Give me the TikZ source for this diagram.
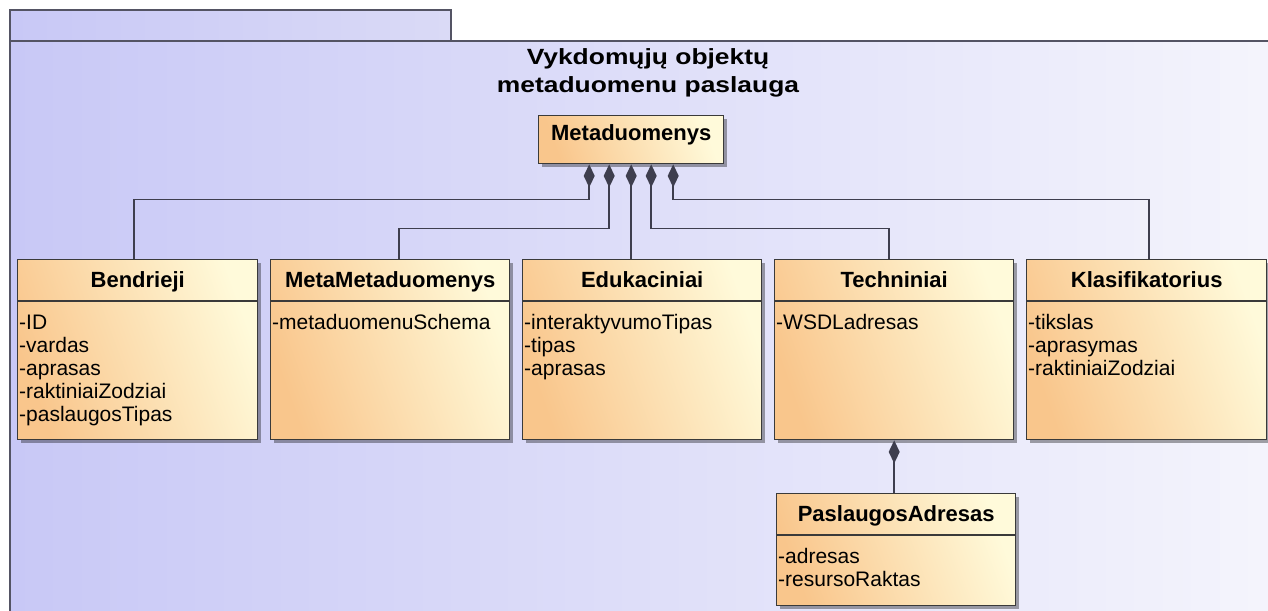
\documentclass[tikz,border=0pt]{standalone}
\usepackage{fontspec}
\setmainfont{Liberation Sans}
\newfontfamily\pkgfont[FakeStretch=1.2]{Liberation Sans}
\usetikzlibrary{arrows.meta,shadows}

\definecolor{pkgL}{RGB}{200,200,246}
\definecolor{pkgM}{RGB}{218,218,246}
\definecolor{pkgR}{RGB}{245,245,252}
\definecolor{pkgline}{RGB}{84,84,100}
\definecolor{clsA}{RGB}{249,198,140}
\definecolor{clsB}{RGB}{255,250,218}
\definecolor{clsline}{RGB}{58,58,58}
\definecolor{wire}{RGB}{62,62,78}

\tikzset{
  classbox/.style={draw=clsline, line width=1.4pt, inner sep=0pt,
    left color=clsA, right color=clsB, shading angle=110,
    drop shadow={shadow xshift=3pt, shadow yshift=-3pt, fill=black, opacity=0.35}},
  clstitle/.style={inner sep=0pt, anchor=base, text=black,
    font=\fontsize{22}{26}\selectfont\bfseries},
  clsattr/.style={inner sep=0pt, anchor=base west, text=black,
    font=\fontsize{21}{23}\selectfont},
  comp/.style={draw=wire, line width=1.8pt, {Diamond[length=23pt,width=11pt]}-},
}

% UML class: name, left, top, width, height, title, attribute lines
\newcommand\umlcls[7]{%
  \node[classbox, minimum width=#4, minimum height=#5, anchor=north west] (#1) at (#2,#3) {};
  \draw[draw=clsline, line width=1.2pt] ([yshift=-42pt]#1.north west) -- ([yshift=-42pt]#1.north east);
  \node[clstitle] (#1-t) at ([yshift=-28pt]#1.north) {#6};
  \node[clsattr] (#1-a) at ([xshift=2pt,yshift=-70pt]#1.north west)
    {\begin{tabular}[t]{@{}l@{}}#7\end{tabular}};
}

\begin{document}
\begin{tikzpicture}[x=1pt,y=-1pt]
\useasboundingbox (0,0) rectangle (1268,610);
\fill[white] (0,0) rectangle (1268,610);
\clip (0,0) rectangle (1268,610);

% package frame with its tab
\shade[left color=pkgL, right color=pkgM] (10,10) rectangle (451,41);
\shade[left color=pkgL, right color=pkgR] (10,41) rectangle (1290,630);
\draw[pkgline, line width=1.8pt] (10,41) -- (10,10) -- (451,10) -- (451,41);
\draw[pkgline, line width=1.8pt] (10,630) -- (10,41) -- (1290,41);

\node[inner sep=0pt, anchor=base, text=black] (pkgtitle) at (648,65)
  {\pkgfont\bfseries\fontsize{22}{28}\selectfont
   \begin{tabular}[t]{@{}c@{}}Vykdomųjų objektų\\metaduomenu paslauga\end{tabular}};

% root class
\node[classbox, minimum width=185, minimum height=48, anchor=north west] (meta) at (538,115) {};
\node[clstitle] (meta-t) at ([yshift=-25pt]meta.north) {Metaduomenys};

\umlcls{bend}{17}{259}{240}{180}{Bendrieji}{-ID\\-vardas\\-aprasas\\-raktiniaiZodziai\\-paslaugosTipas}
\umlcls{mmeta}{270}{259}{239}{180}{MetaMetaduomenys}{-metaduomenuSchema}
\umlcls{edu}{522}{259}{239}{180}{Edukaciniai}{-interaktyvumoTipas\\-tipas\\-aprasas}
\umlcls{tech}{774}{259}{239}{180}{Techniniai}{-WSDLadresas}
\umlcls{klas}{1026}{259}{240}{180}{Klasifikatorius}{-tikslas\\-aprasymas\\-raktiniaiZodziai}
\umlcls{padr}{776}{493}{239}{112}{PaslaugosAdresas}{-adresas\\-resursoRaktas}

% compositions
\draw[comp] ([xshift=-42pt]meta.south) -- ++(0,35) -| ([xshift=-4pt]bend.north);
\draw[comp] ([xshift=-22pt]meta.south) -- ++(0,64) -| ([xshift=8.5pt]mmeta.north);
\draw[comp] (meta.south) -- (meta.south |- edu.north);
\draw[comp] ([xshift=20pt]meta.south) -- ++(0,64) -| ([xshift=-5.5pt]tech.north);
\draw[comp] ([xshift=42pt]meta.south) -- ++(0,35) -| ([xshift=2.5pt]klas.north);
\draw[comp] (tech.south) -- (tech.south |- padr.north);
\end{tikzpicture}
\end{document}
